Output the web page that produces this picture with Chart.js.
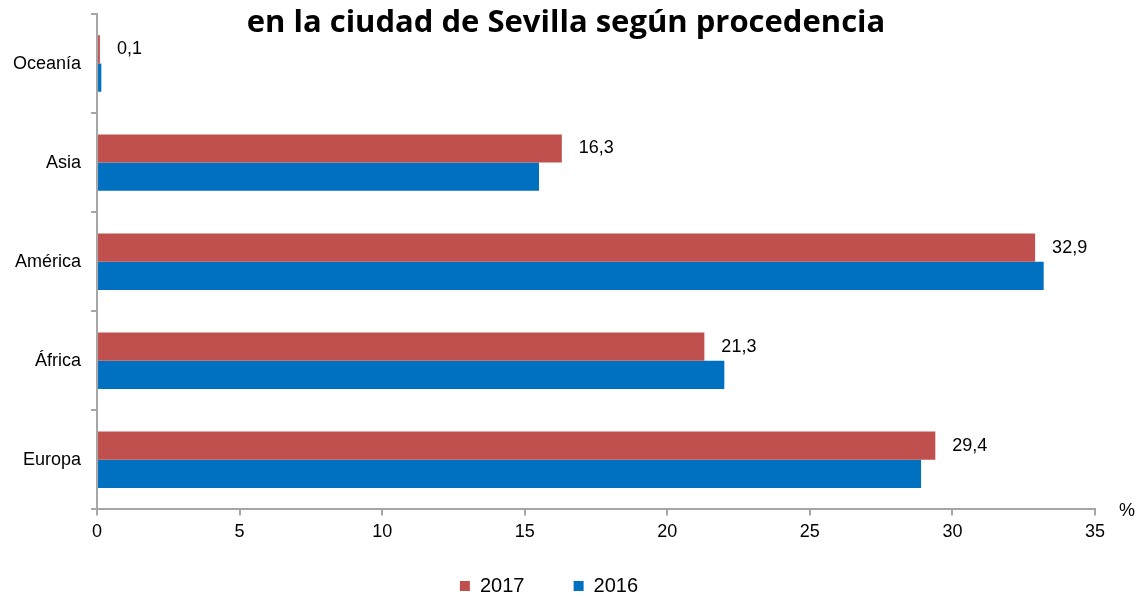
<!DOCTYPE html>
<html>
<head>
<meta charset="utf-8">
<script src="https://cdn.jsdelivr.net/npm/chart.js@4/dist/chart.umd.min.js"></script>
<style>
  html, body { margin: 0; padding: 0; background: #fff; }
  #wrap { width: 1137px; height: 597px; position: relative; }
</style>
</head>
<body>
<div id="wrap"><canvas id="chart"></canvas></div>
<script>
// datos
var categorias = ['Oceanía', 'Asia', 'América', 'África', 'Europa'];
var valores2017 = [0.1, 16.3, 32.9, 21.3, 29.4];
var valores2016 = [0.15, 15.5, 33.2, 22.0, 28.9];
var etiquetas2017 = ['0,1', '16,3', '32,9', '21,3', '29,4'];
var titulo = 'en la ciudad de Sevilla según procedencia';

var gris = '#a6a6a6';
var fuente = '"Liberation Sans", Arial, sans-serif';

// etiquetas de valor solo para 2017
var etiquetasPlugin = {
    id: 'etiquetas',
    afterDatasetsDraw: function (chart) {
        var ctx = chart.ctx;
        var meta = chart.getDatasetMeta(0);
        ctx.save();
        ctx.font = '18px ' + fuente;
        ctx.fillStyle = '#000';
        ctx.textAlign = 'left';
        ctx.textBaseline = 'middle';
        meta.data.forEach(function (bar, i) {
            ctx.fillText(etiquetas2017[i], bar.x + 17, bar.y);
        });
        ctx.restore();
    }
};

var tituloPlugin = {
    id: 'titulo',
    afterDraw: function (chart) {
        var ctx = chart.ctx;
        var x = chart.scales.x;
        ctx.save();
        ctx.font = 'bold 31px "Open Sans", sans-serif';
        ctx.fillStyle = '#000';
        ctx.textAlign = 'center';
        ctx.textBaseline = 'alphabetic';
        ctx.fillText(titulo, 566, 32);
        // unidad del eje
        ctx.font = '18px ' + fuente;
        ctx.textAlign = 'left';
        ctx.textBaseline = 'middle';
        ctx.fillText('%', x.right + 24, x.top + 2);
        ctx.restore();
    }
};

var chart = new Chart(document.getElementById('chart'), {
    type: 'bar',
    data: {
        labels: categorias,
        datasets: [
            {
                label: '2017',
                data: valores2017,
                backgroundColor: '#C0504D',
                categoryPercentage: 0.57,
                barPercentage: 1
            },
            {
                label: '2016',
                data: valores2016,
                backgroundColor: '#0070C0',
                categoryPercentage: 0.57,
                barPercentage: 1
            }
        ]
    },
    options: {
        indexAxis: 'y',
        responsive: true,
        maintainAspectRatio: false,
        animation: false,
        layout: {
            padding: { top: 14, right: 42, left: 3, bottom: -9 }
        },
        scales: {
            x: {
                min: 0,
                max: 35,
                ticks: {
                    stepSize: 5,
                    color: '#000',
                    padding: 6,
                    font: { size: 18, family: fuente }
                },
                grid: {
                    drawOnChartArea: false,
                    color: gris,
                    lineWidth: 2,
                    tickLength: 6
                },
                border: { color: gris, width: 2 }
            },
            y: {
                afterFit: function (scale) {
                    // sin margen extra arriba/abajo por las etiquetas
                    scale.paddingTop = 0;
                    scale.paddingBottom = 0;
                },
                ticks: {
                    color: '#000',
                    padding: 10,
                    font: { size: 18, family: fuente }
                },
                grid: {
                    drawOnChartArea: false,
                    color: gris,
                    lineWidth: 2,
                    tickLength: 6
                },
                border: { color: gris, width: 2 }
            }
        },
        plugins: {
            title: { display: false },
            tooltip: { enabled: false },
            legend: {
                position: 'bottom',
                labels: {
                    boxWidth: 10,
                    boxHeight: 10,
                    padding: 27,
                    color: '#000',
                    font: { size: 20, family: fuente },
                    generateLabels: function (chart) {
                        var items = Chart.defaults.plugins.legend.labels.generateLabels(chart);
                        // algo mas de aire entre las dos entradas
                        items[0].text = items[0].text + '\u00a0\u00a0\u00a0\u00a0';
                        return items;
                    }
                }
            }
        }
    },
    plugins: [etiquetasPlugin, tituloPlugin]
});
</script>
</body>
</html>
